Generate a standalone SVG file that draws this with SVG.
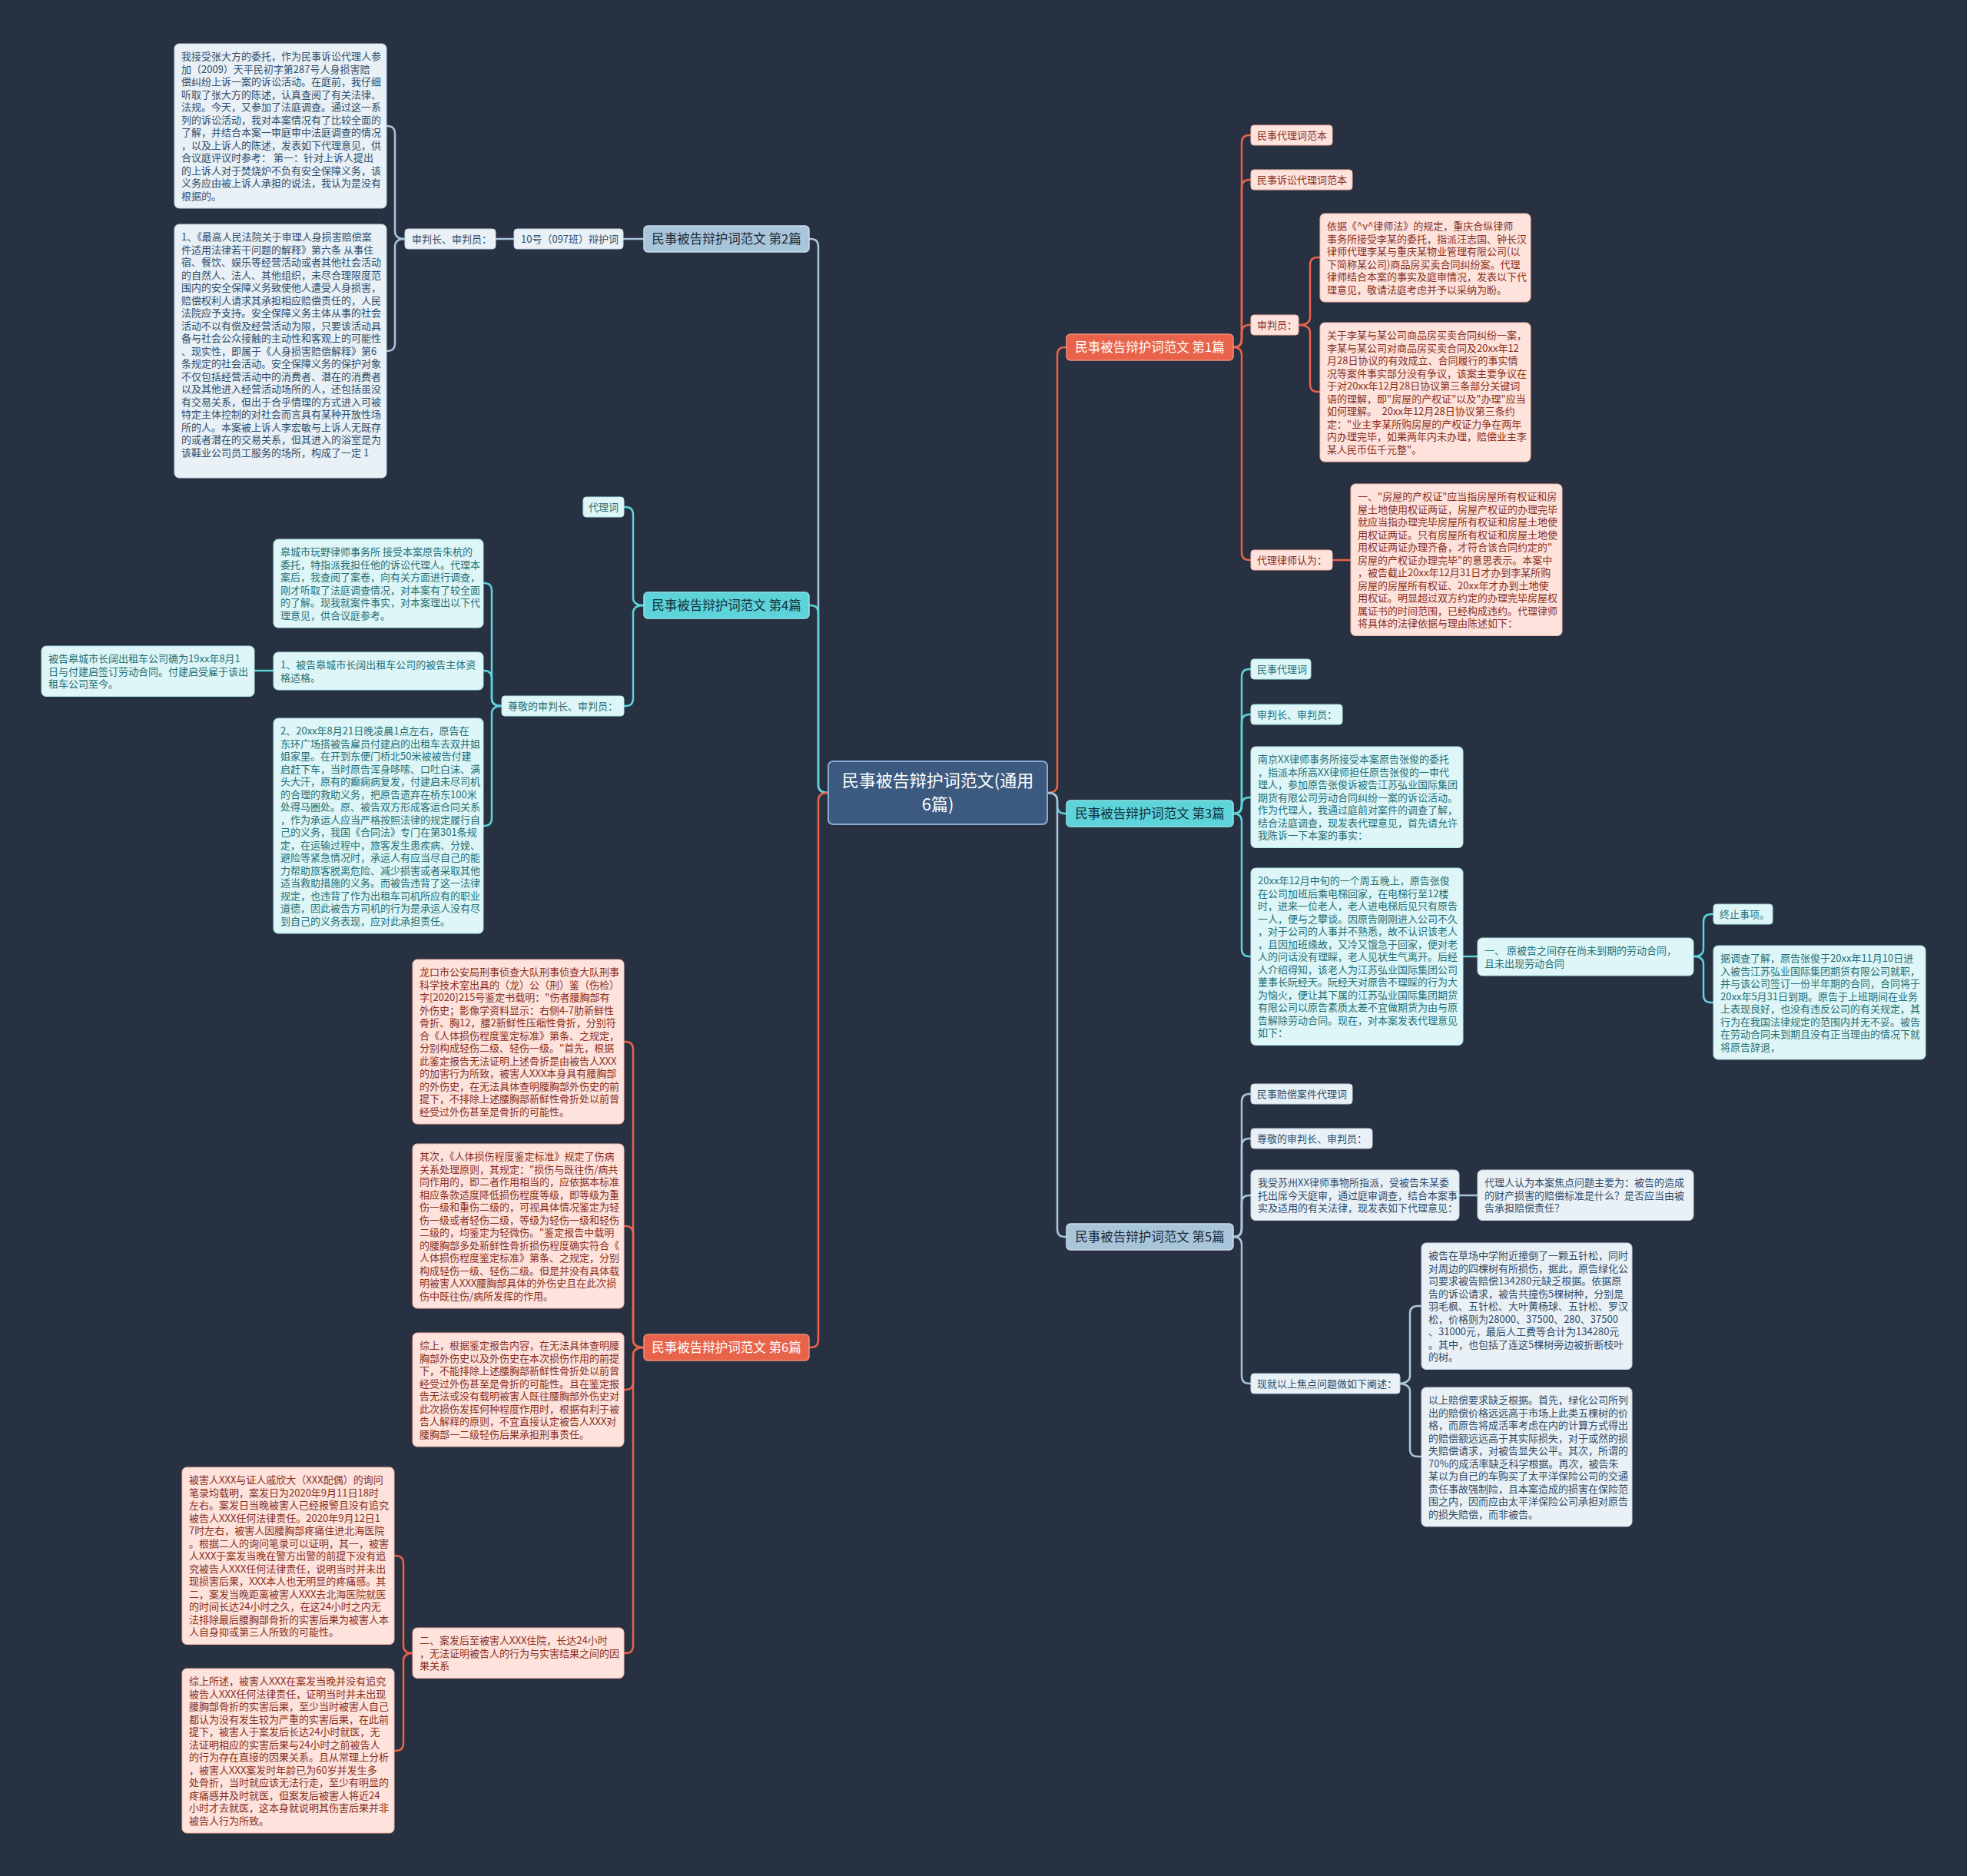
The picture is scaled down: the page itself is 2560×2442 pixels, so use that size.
<svg xmlns="http://www.w3.org/2000/svg" width="2560" height="2442" viewBox="0 0 2560 2442">
<style>
text{font-family:"Noto Sans CJK SC","Noto Sans",sans-serif;font-size:13px}
.bg{fill:#283142}
.c-blue{fill:none;stroke:#a9c5d9;stroke-width:2.5}
.c-cyan{fill:none;stroke:#5dd3da;stroke-width:2.5}
.c-red{fill:none;stroke:#e8634a;stroke-width:2.5}
.n1b rect{fill:#a9c5d9;stroke:#c9dceb;stroke-width:1.5}
.n1b text{fill:#1c2a3a;font-size:16.5px;text-anchor:middle}
.n1c rect{fill:#5dd3da;stroke:#8fe6ea;stroke-width:1.5}
.n1c text{fill:#13303a;font-size:16.5px;text-anchor:middle}
.n1r rect{fill:#e8634a;stroke:#f08d78;stroke-width:1.5}
.n1r text{fill:#ffffff;font-size:16.5px;text-anchor:middle}
.b rect{fill:#e9f1f7;stroke:#c3d6e4;stroke-width:1}
.b text{fill:#2f4d6a}
.c rect{fill:#def6f7;stroke:#aee6ea;stroke-width:1}
.c text{fill:#1e7077}
.r rect{fill:#fde3db;stroke:#f2b7a8;stroke-width:1}
.r text{fill:#8b2f1f}
</style>
<rect class="bg" x="0" y="0" width="2560" height="2442"/>

<g id="connectors">
<path class="c-red" d="M1363,1032 Q1376,1032 1376,1022 L1376,462 Q1376,452 1386,452 L1388,452"/>
<path class="c-cyan" d="M1363,1032 Q1376,1032 1376,1042 L1376,1049 Q1376,1059 1386,1059 L1388,1059"/>
<path class="c-blue" d="M1363,1032 Q1376,1032 1376,1042 L1376,1600 Q1376,1610 1386,1610 L1388,1610"/>
<path class="c-blue" d="M1078,1032 Q1065,1032 1065,1022 L1065,321 Q1065,311 1055,311 L1053,311"/>
<path class="c-cyan" d="M1078,1032 Q1065,1032 1065,1022 L1065,798 Q1065,788 1055,788 L1053,788"/>
<path class="c-red" d="M1078,1032 Q1065,1032 1065,1042 L1065,1744 Q1065,1754 1055,1754 L1053,1754"/>
<path class="c-blue" d="M838,311 L811,311"/>
<path class="c-blue" d="M669,311 L645,311"/>
<path class="c-blue" d="M527,311 Q514,311 514,301 L514,174 Q514,164 504,164 L503,164"/>
<path class="c-blue" d="M527,311 Q514,311 514,321 L514,447 Q514,457 504,457 L503,457"/>
<path class="c-cyan" d="M838,788 Q824,788 824,778 L824,670 Q824,660 814,660 L812,660"/>
<path class="c-cyan" d="M838,788 Q824,788 824,798 L824,909 Q824,919 814,919 L812,919"/>
<path class="c-cyan" d="M653,919 Q640,919 640,909 L640,769 Q640,759 630,759 L629,759"/>
<path class="c-cyan" d="M653,919 Q640,919 640,909 L640,883 Q640,873 630,873 L629,873"/>
<path class="c-cyan" d="M653,919 Q640,919 640,929 L640,1065 Q640,1075 630,1075 L629,1075"/>
<path class="c-cyan" d="M356,873 L331,873"/>
<path class="c-red" d="M838,1754 Q824,1754 824,1744 L824,1366 Q824,1356 814,1356 L812,1356"/>
<path class="c-red" d="M838,1754 Q824,1754 824,1744 L824,1606 Q824,1596 814,1596 L812,1596"/>
<path class="c-red" d="M838,1754 Q824,1754 824,1764 L824,1799 Q824,1809 814,1809 L812,1809"/>
<path class="c-red" d="M838,1754 Q824,1754 824,1764 L824,2142 Q824,2152 814,2152 L812,2152"/>
<path class="c-red" d="M537,2152 Q525,2152 525,2142 L525,2035 Q525,2025 515,2025 L513,2025"/>
<path class="c-red" d="M537,2152 Q525,2152 525,2162 L525,2269 Q525,2279 515,2279 L513,2279"/>
<path class="c-red" d="M1605,452 Q1616,452 1616,442 L1616,186 Q1616,176 1626,176 L1628,176"/>
<path class="c-red" d="M1605,452 Q1616,452 1616,442 L1616,244 Q1616,234 1626,234 L1628,234"/>
<path class="c-red" d="M1605,452 Q1616,452 1616,442 L1616,433 Q1616,423 1626,423 L1628,423"/>
<path class="c-red" d="M1605,452 Q1616,452 1616,462 L1616,719 Q1616,729 1626,729 L1628,729"/>
<path class="c-red" d="M1690,423 Q1705,423 1705,413 L1705,345 Q1705,335 1715,335 L1718,335"/>
<path class="c-red" d="M1690,423 Q1705,423 1705,433 L1705,500 Q1705,510 1715,510 L1718,510"/>
<path class="c-red" d="M1734,729 L1758,729"/>
<path class="c-cyan" d="M1605,1059 Q1616,1059 1616,1049 L1616,881 Q1616,871 1626,871 L1628,871"/>
<path class="c-cyan" d="M1605,1059 Q1616,1059 1616,1049 L1616,940 Q1616,930 1626,930 L1628,930"/>
<path class="c-cyan" d="M1605,1059 Q1616,1059 1616,1049 L1616,1048 Q1616,1038 1626,1038 L1628,1038"/>
<path class="c-cyan" d="M1605,1059 Q1616,1059 1616,1069 L1616,1235 Q1616,1245 1626,1245 L1628,1245"/>
<path class="c-cyan" d="M1904,1245 L1923,1245"/>
<path class="c-cyan" d="M2204,1245 Q2217,1245 2217,1235 L2217,1200 Q2217,1190 2227,1190 L2230,1190"/>
<path class="c-cyan" d="M2204,1245 Q2217,1245 2217,1255 L2217,1295 Q2217,1305 2227,1305 L2230,1305"/>
<path class="c-blue" d="M1605,1610 Q1616,1610 1616,1600 L1616,1434 Q1616,1424 1626,1424 L1628,1424"/>
<path class="c-blue" d="M1605,1610 Q1616,1610 1616,1600 L1616,1492 Q1616,1482 1626,1482 L1628,1482"/>
<path class="c-blue" d="M1605,1610 Q1616,1610 1616,1600 L1616,1566 Q1616,1556 1626,1556 L1628,1556"/>
<path class="c-blue" d="M1605,1610 Q1616,1610 1616,1620 L1616,1791 Q1616,1801 1626,1801 L1628,1801"/>
<path class="c-blue" d="M1899,1556 L1923,1556"/>
<path class="c-blue" d="M1818,1801 Q1835,1801 1835,1791 L1835,1710 Q1835,1700 1845,1700 L1850,1700"/>
<path class="c-blue" d="M1818,1801 Q1835,1801 1835,1811 L1835,1886 Q1835,1896 1845,1896 L1850,1896"/>
</g>

<g id="center">
<rect x="1078" y="991" width="285" height="82" rx="6" fill="#3c5a80" stroke="#8aaad0" stroke-width="2"/>
<text x="1220.5" y="1024" fill="#ffffff" text-anchor="middle" style="font-size:22px">民事被告辩护词范文(通用</text>
<text x="1220.5" y="1055" fill="#ffffff" text-anchor="middle" style="font-size:22px">6篇)</text>
</g>

<g id="p1" class="n1r"><rect x="1388" y="435" width="217" height="34" rx="5"/><text x="1496.5" y="458">民事被告辩护词范文 第1篇</text></g>
<g id="p2" class="n1b"><rect x="838" y="294" width="215" height="34" rx="5"/><text x="945.5" y="317">民事被告辩护词范文 第2篇</text></g>
<g id="p3" class="n1c"><rect x="1388" y="1042" width="217" height="34" rx="5"/><text x="1496.5" y="1065">民事被告辩护词范文 第3篇</text></g>
<g id="p4" class="n1c"><rect x="838" y="771" width="215" height="34" rx="5"/><text x="945.5" y="794">民事被告辩护词范文 第4篇</text></g>
<g id="p5" class="n1b"><rect x="1388" y="1593" width="217" height="34" rx="5"/><text x="1496.5" y="1616">民事被告辩护词范文 第5篇</text></g>
<g id="p6" class="n1r"><rect x="838" y="1737" width="215" height="34" rx="5"/><text x="945.5" y="1760">民事被告辩护词范文 第6篇</text></g>

<g id="n2a" class="b"><rect x="669" y="298" width="142" height="26" rx="4"/><text x="678" y="316">10号（097班）辩护词</text></g>
<g id="n2b" class="b"><rect x="527" y="298" width="118" height="26" rx="4"/><text x="536" y="316">审判长、审判员：</text></g>
<g id="n2c" class="b"><rect x="227" y="57" width="276" height="214" rx="6"/>
<text x="236" y="78">我接受张大方的委托，作为民事诉讼代理人参<tspan x="236" dy="16.5">加（2009）天平民初字第287号人身损害赔</tspan><tspan x="236" dy="16.5">偿纠纷上诉一案的诉讼活动。在庭前，我仔细</tspan><tspan x="236" dy="16.5">听取了张大方的陈述，认真查阅了有关法律、</tspan><tspan x="236" dy="16.5">法规。今天，又参加了法庭调查。通过这一系</tspan><tspan x="236" dy="16.5">列的诉讼活动，我对本案情况有了比较全面的</tspan><tspan x="236" dy="16.5">了解，并结合本案一审庭审中法庭调查的情况</tspan><tspan x="236" dy="16.5">，以及上诉人的陈述，发表如下代理意见，供</tspan><tspan x="236" dy="16.5">合议庭评议时参考： 第一：针对上诉人提出</tspan><tspan x="236" dy="16.5">的上诉人对于焚烧炉不负有安全保障义务，该</tspan><tspan x="236" dy="16.5">义务应由被上诉人承担的说法，我认为是没有</tspan><tspan x="236" dy="16.5">根据的。</tspan></text></g>
<g id="n2d" class="b"><rect x="227" y="292" width="276" height="330" rx="6"/>
<text x="236" y="313">1、《最高人民法院关于审理人身损害赔偿案<tspan x="236" dy="16.5">件适用法律若干问题的解释》第六条 从事住</tspan><tspan x="236" dy="16.5">宿、餐饮、娱乐等经营活动或者其他社会活动</tspan><tspan x="236" dy="16.5">的自然人、法人、其他组织，未尽合理限度范</tspan><tspan x="236" dy="16.5">围内的安全保障义务致使他人遭受人身损害，</tspan><tspan x="236" dy="16.5">赔偿权利人请求其承担相应赔偿责任的，人民</tspan><tspan x="236" dy="16.5">法院应予支持。安全保障义务主体从事的社会</tspan><tspan x="236" dy="16.5">活动不以有偿及经营活动为限，只要该活动具</tspan><tspan x="236" dy="16.5">备与社会公众接触的主动性和客观上的可能性</tspan><tspan x="236" dy="16.5">、现实性，即属于《人身损害赔偿解释》第6</tspan><tspan x="236" dy="16.5">条规定的社会活动。安全保障义务的保护对象</tspan><tspan x="236" dy="16.5">不仅包括经营活动中的消费者、潜在的消费者</tspan><tspan x="236" dy="16.5">以及其他进入经营活动场所的人，还包括虽没</tspan><tspan x="236" dy="16.5">有交易关系，但出于合乎情理的方式进入可被</tspan><tspan x="236" dy="16.5">特定主体控制的对社会而言具有某种开放性场</tspan><tspan x="236" dy="16.5">所的人。本案被上诉人李宏敏与上诉人无既存</tspan><tspan x="236" dy="16.5">的或者潜在的交易关系，但其进入的浴室是为</tspan><tspan x="236" dy="16.5">该鞋业公司员工服务的场所，构成了一定 1</tspan></text></g>

<g id="n4a" class="c"><rect x="759" y="647" width="53" height="26" rx="4"/><text x="766" y="665">代理词</text></g>
<g id="n4b" class="c"><rect x="653" y="906" width="159" height="26" rx="4"/><text x="661" y="924">尊敬的审判长、审判员：</text></g>
<g id="n4c" class="c"><rect x="356" y="702" width="273" height="115" rx="6"/>
<text x="365" y="723">皋城市玩野律师事务所 接受本案原告朱杭的<tspan x="365" dy="16.5">委托，特指派我担任他的诉讼代理人。代理本</tspan><tspan x="365" dy="16.5">案后，我查阅了案卷，向有关方面进行调查，</tspan><tspan x="365" dy="16.5">刚才听取了法庭调查情况，对本案有了较全面</tspan><tspan x="365" dy="16.5">的了解。现我就案件事实，对本案理出以下代</tspan><tspan x="365" dy="16.5">理意见，供合议庭参考。</tspan></text></g>
<g id="n4d" class="c"><rect x="356" y="849" width="273" height="49" rx="6"/>
<text x="365" y="870">1、被告皋城市长阔出租车公司的被告主体资<tspan x="365" dy="16.5">格适格。</tspan></text></g>
<g id="n4e" class="c"><rect x="54" y="841" width="277" height="65.5" rx="6"/>
<text x="63" y="862">被告皋城市长阔出租车公司确为19xx年8月1<tspan x="63" dy="16.5">日与付建启签订劳动合同。付建启受雇于该出</tspan><tspan x="63" dy="16.5">租车公司至今。</tspan></text></g>
<g id="n4f" class="c"><rect x="356" y="935" width="273" height="280" rx="6"/>
<text x="365" y="956">2、20xx年8月21日晚凌晨1点左右，原告在<tspan x="365" dy="16.5">东环广场搭被告雇员付建启的出租车去双井姐</tspan><tspan x="365" dy="16.5">姐家里。在开到东便门桥北50米被被告付建</tspan><tspan x="365" dy="16.5">启赶下车，当时原告浑身哆嗦、口吐白沫、满</tspan><tspan x="365" dy="16.5">头大汗，原有的癫痫病复发，付建启未尽司机</tspan><tspan x="365" dy="16.5">的合理的救助义务，把原告遗弃在桥东100米</tspan><tspan x="365" dy="16.5">处得马圈处。原、被告双方形成客运合同关系</tspan><tspan x="365" dy="16.5">，作为承运人应当严格按照法律的规定履行自</tspan><tspan x="365" dy="16.5">己的义务，我国《合同法》专门在第301条规</tspan><tspan x="365" dy="16.5">定，在运输过程中，旅客发生患疾病、分娩、</tspan><tspan x="365" dy="16.5">避险等紧急情况时，承运人有应当尽自己的能</tspan><tspan x="365" dy="16.5">力帮助旅客脱离危险、减少损害或者采取其他</tspan><tspan x="365" dy="16.5">适当救助措施的义务。而被告违背了这一法律</tspan><tspan x="365" dy="16.5">规定，也违背了作为出租车司机所应有的职业</tspan><tspan x="365" dy="16.5">道德，因此被告方司机的行为是承运人没有尽</tspan><tspan x="365" dy="16.5">到自己的义务表现，应对此承担责任。</tspan></text></g>

<g id="n6a" class="r"><rect x="537" y="1249" width="275" height="214" rx="6"/>
<text x="546" y="1270">龙口市公安局刑事侦查大队刑事侦查大队刑事<tspan x="546" dy="16.5">科学技术室出具的（龙）公（刑）鉴（伤检）</tspan><tspan x="546" dy="16.5">字[2020]215号鉴定书载明："伤者腰胸部有</tspan><tspan x="546" dy="16.5">外伤史；影像学资料显示：右侧4-7肋新鲜性</tspan><tspan x="546" dy="16.5">骨折、胸12，腰2新鲜性压缩性骨折，分别符</tspan><tspan x="546" dy="16.5">合《人体损伤程度鉴定标准》第条、之规定，</tspan><tspan x="546" dy="16.5">分别构成轻伤二级、轻伤一级。"首先，根据</tspan><tspan x="546" dy="16.5">此鉴定报告无法证明上述骨折是由被告人XXX</tspan><tspan x="546" dy="16.5">的加害行为所致，被害人XXX本身具有腰胸部</tspan><tspan x="546" dy="16.5">的外伤史，在无法具体查明腰胸部外伤史的前</tspan><tspan x="546" dy="16.5">提下，不排除上述腰胸部新鲜性骨折处以前曾</tspan><tspan x="546" dy="16.5">经受过外伤甚至是骨折的可能性。</tspan></text></g>
<g id="n6b" class="r"><rect x="537" y="1489" width="275" height="214" rx="6"/>
<text x="546" y="1510">其次，《人体损伤程度鉴定标准》规定了伤病<tspan x="546" dy="16.5">关系处理原则，其规定："损伤与既往伤/病共</tspan><tspan x="546" dy="16.5">同作用的，即二者作用相当的，应依据本标准</tspan><tspan x="546" dy="16.5">相应条款适度降低损伤程度等级，即等级为重</tspan><tspan x="546" dy="16.5">伤一级和重伤二级的，可视具体情况鉴定为轻</tspan><tspan x="546" dy="16.5">伤一级或者轻伤二级，等级为轻伤一级和轻伤</tspan><tspan x="546" dy="16.5">二级的，均鉴定为轻微伤。"鉴定报告中载明</tspan><tspan x="546" dy="16.5">的腰胸部多处新鲜性骨折损伤程度确实符合《</tspan><tspan x="546" dy="16.5">人体损伤程度鉴定标准》第条、之规定，分别</tspan><tspan x="546" dy="16.5">构成轻伤一级、轻伤二级。但是并没有具体载</tspan><tspan x="546" dy="16.5">明被害人XXX腰胸部具体的外伤史且在此次损</tspan><tspan x="546" dy="16.5">伤中既往伤/病所发挥的作用。</tspan></text></g>
<g id="n6c" class="r"><rect x="537" y="1735" width="275" height="148" rx="6"/>
<text x="546" y="1756">综上，根据鉴定报告内容，在无法具体查明腰<tspan x="546" dy="16.5">胸部外伤史以及外伤史在本次损伤作用的前提</tspan><tspan x="546" dy="16.5">下，不能排除上述腰胸部新鲜性骨折处以前曾</tspan><tspan x="546" dy="16.5">经受过外伤甚至是骨折的可能性。且在鉴定报</tspan><tspan x="546" dy="16.5">告无法或没有载明被害人既往腰胸部外伤史对</tspan><tspan x="546" dy="16.5">此次损伤发挥何种程度作用时，根据有利于被</tspan><tspan x="546" dy="16.5">告人解释的原则，不宜直接认定被告人XXX对</tspan><tspan x="546" dy="16.5">腰胸部一二级轻伤后果承担刑事责任。</tspan></text></g>
<g id="n6d" class="r"><rect x="537" y="2119" width="275" height="65.5" rx="6"/>
<text x="546" y="2140">二、案发后至被害人XXX住院，长达24小时<tspan x="546" dy="16.5">，无法证明被告人的行为与实害结果之间的因</tspan><tspan x="546" dy="16.5">果关系</tspan></text></g>
<g id="n6e" class="r"><rect x="237" y="1910" width="276" height="230.5" rx="6"/>
<text x="246" y="1931">被害人XXX与证人戚欣大（XXX配偶）的询问<tspan x="246" dy="16.5">笔录均载明，案发日为2020年9月11日18时</tspan><tspan x="246" dy="16.5">左右。案发日当晚被害人已经报警且没有追究</tspan><tspan x="246" dy="16.5">被告人XXX任何法律责任。2020年9月12日1</tspan><tspan x="246" dy="16.5">7时左右，被害人因腰胸部疼痛住进北海医院</tspan><tspan x="246" dy="16.5">。根据二人的询问笔录可以证明，其一，被害</tspan><tspan x="246" dy="16.5">人XXX于案发当晚在警方出警的前提下没有追</tspan><tspan x="246" dy="16.5">究被告人XXX任何法律责任，说明当时并未出</tspan><tspan x="246" dy="16.5">现损害后果，XXX本人也无明显的疼痛感。其</tspan><tspan x="246" dy="16.5">二，案发当晚距离被害人XXX去北海医院就医</tspan><tspan x="246" dy="16.5">的时间长达24小时之久，在这24小时之内无</tspan><tspan x="246" dy="16.5">法排除最后腰胸部骨折的实害后果为被害人本</tspan><tspan x="246" dy="16.5">人自身抑或第三人所致的可能性。</tspan></text></g>
<g id="n6f" class="r"><rect x="237" y="2172" width="276" height="214" rx="6"/>
<text x="246" y="2193">综上所述，被害人XXX在案发当晚并没有追究<tspan x="246" dy="16.5">被告人XXX任何法律责任，证明当时并未出现</tspan><tspan x="246" dy="16.5">腰胸部骨折的实害后果，至少当时被害人自己</tspan><tspan x="246" dy="16.5">都认为没有发生较为严重的实害后果，在此前</tspan><tspan x="246" dy="16.5">提下，被害人于案发后长达24小时就医，无</tspan><tspan x="246" dy="16.5">法证明相应的实害后果与24小时之前被告人</tspan><tspan x="246" dy="16.5">的行为存在直接的因果关系。且从常理上分析</tspan><tspan x="246" dy="16.5">，被害人XXX案发时年龄已为60岁并发生多</tspan><tspan x="246" dy="16.5">处骨折，当时就应该无法行走，至少有明显的</tspan><tspan x="246" dy="16.5">疼痛感并及时就医，但案发后被害人将近24</tspan><tspan x="246" dy="16.5">小时才去就医，这本身就说明其伤害后果并非</tspan><tspan x="246" dy="16.5">被告人行为所致。</tspan></text></g>

<g id="n1a" class="r"><rect x="1628" y="163" width="106" height="26" rx="4"/><text x="1636" y="181">民事代理词范本</text></g>
<g id="n1b" class="r"><rect x="1628" y="221" width="132" height="26" rx="4"/><text x="1636" y="239">民事诉讼代理词范本</text></g>
<g id="n1c" class="r"><rect x="1628" y="410" width="62" height="26" rx="4"/><text x="1636" y="428">审判员：</text></g>
<g id="n1d" class="r"><rect x="1628" y="716" width="106" height="26" rx="4"/><text x="1636" y="734">代理律师认为：</text></g>
<g id="n1e" class="r"><rect x="1718" y="278" width="274" height="115" rx="6"/>
<text x="1727" y="299">依据《^v^律师法》的规定，重庆合纵律师<tspan x="1727" dy="16.5">事务所接受李某的委托，指派汪志国、钟长汉</tspan><tspan x="1727" dy="16.5">律师代理李某与重庆某物业管理有限公司(以</tspan><tspan x="1727" dy="16.5">下简称某公司)商品房买卖合同纠纷案。代理</tspan><tspan x="1727" dy="16.5">律师结合本案的事实及庭审情况，发表以下代</tspan><tspan x="1727" dy="16.5">理意见，敬请法庭考虑并予以采纳为盼。</tspan></text></g>
<g id="n1f" class="r"><rect x="1718" y="420" width="274" height="181" rx="6"/>
<text x="1727" y="441">关于李某与某公司商品房买卖合同纠纷一案，<tspan x="1727" dy="16.5">李某与某公司对商品房买卖合同及20xx年12</tspan><tspan x="1727" dy="16.5">月28日协议的有效成立、合同履行的事实情</tspan><tspan x="1727" dy="16.5">况等案件事实部分没有争议，该案主要争议在</tspan><tspan x="1727" dy="16.5">于对20xx年12月28日协议第三条部分关键词</tspan><tspan x="1727" dy="16.5">语的理解，即"房屋的产权证"以及"办理"应当</tspan><tspan x="1727" dy="16.5">如何理解。　20xx年12月28日协议第三条约</tspan><tspan x="1727" dy="16.5">定："业主李某所购房屋的产权证力争在两年</tspan><tspan x="1727" dy="16.5">内办理完毕，如果两年内未办理，赔偿业主李</tspan><tspan x="1727" dy="16.5">某人民币伍千元整"。</tspan></text></g>
<g id="n1g" class="r"><rect x="1758" y="630" width="275" height="197.5" rx="6"/>
<text x="1767" y="651">一、"房屋的产权证"应当指房屋所有权证和房<tspan x="1767" dy="16.5">屋土地使用权证两证，房屋产权证的办理完毕</tspan><tspan x="1767" dy="16.5">就应当指办理完毕房屋所有权证和房屋土地使</tspan><tspan x="1767" dy="16.5">用权证两证。只有房屋所有权证和房屋土地使</tspan><tspan x="1767" dy="16.5">用权证两证办理齐备，才符合该合同约定的"</tspan><tspan x="1767" dy="16.5">房屋的产权证办理完毕"的意思表示。本案中</tspan><tspan x="1767" dy="16.5">，被告截止20xx年12月31日才办到李某所购</tspan><tspan x="1767" dy="16.5">房屋的房屋所有权证、20xx年才办到土地使</tspan><tspan x="1767" dy="16.5">用权证。明显超过双方约定的办理完毕房屋权</tspan><tspan x="1767" dy="16.5">属证书的时间范围，已经构成违约。代理律师</tspan><tspan x="1767" dy="16.5">将具体的法律依据与理由陈述如下：</tspan></text></g>

<g id="n3a" class="c"><rect x="1628" y="858" width="78" height="26" rx="4"/><text x="1636" y="876">民事代理词</text></g>
<g id="n3b" class="c"><rect x="1628" y="917" width="119" height="26" rx="4"/><text x="1636" y="935">审判长、审判员：</text></g>
<g id="n3c" class="c"><rect x="1628" y="972" width="276" height="131.5" rx="6"/>
<text x="1637" y="993">南京XX律师事务所接受本案原告张俊的委托<tspan x="1637" dy="16.5">，指派本所高XX律师担任原告张俊的一审代</tspan><tspan x="1637" dy="16.5">理人，参加原告张俊诉被告江苏弘业国际集团</tspan><tspan x="1637" dy="16.5">期货有限公司劳动合同纠纷一案的诉讼活动。</tspan><tspan x="1637" dy="16.5">作为代理人，我通过庭前对案件的调查了解，</tspan><tspan x="1637" dy="16.5">结合法庭调查，现发表代理意见，首先请允许</tspan><tspan x="1637" dy="16.5">我陈诉一下本案的事实：</tspan></text></g>
<g id="n3d" class="c"><rect x="1628" y="1130" width="276" height="230.5" rx="6"/>
<text x="1637" y="1151">20xx年12月中旬的一个周五晚上，原告张俊<tspan x="1637" dy="16.5">在公司加班后乘电梯回家，在电梯行至12楼</tspan><tspan x="1637" dy="16.5">时，进来一位老人，老人进电梯后见只有原告</tspan><tspan x="1637" dy="16.5">一人，便与之攀谈。因原告刚刚进入公司不久</tspan><tspan x="1637" dy="16.5">，对于公司的人事并不熟悉，故不认识该老人</tspan><tspan x="1637" dy="16.5">，且因加班缘故，又冷又饿急于回家，便对老</tspan><tspan x="1637" dy="16.5">人的问话没有理睬，老人见状生气离开。后经</tspan><tspan x="1637" dy="16.5">人介绍得知，该老人为江苏弘业国际集团公司</tspan><tspan x="1637" dy="16.5">董事长阮经天。阮经天对原告不理睬的行为大</tspan><tspan x="1637" dy="16.5">为恼火，便让其下属的江苏弘业国际集团期货</tspan><tspan x="1637" dy="16.5">有限公司以原告素质太差不宜做期货为由与原</tspan><tspan x="1637" dy="16.5">告解除劳动合同。现在，对本案发表代理意见</tspan><tspan x="1637" dy="16.5">如下：</tspan></text></g>
<g id="n3e" class="c"><rect x="1923" y="1221" width="281" height="49" rx="6"/>
<text x="1932" y="1242">一、 原被告之间存在尚未到期的劳动合同，<tspan x="1932" dy="16.5">且未出现劳动合同</tspan></text></g>
<g id="n3f" class="c"><rect x="2230" y="1177" width="77" height="26" rx="4"/><text x="2238" y="1195">终止事项。</text></g>
<g id="n3g" class="c"><rect x="2230" y="1231" width="276" height="148" rx="6"/>
<text x="2239" y="1252">据调查了解，原告张俊于20xx年11月10日进<tspan x="2239" dy="16.5">入被告江苏弘业国际集团期货有限公司就职，</tspan><tspan x="2239" dy="16.5">并与该公司签订一份半年期的合同，合同将于</tspan><tspan x="2239" dy="16.5">20xx年5月31日到期。原告于上班期间在业务</tspan><tspan x="2239" dy="16.5">上表现良好，也没有违反公司的有关规定，其</tspan><tspan x="2239" dy="16.5">行为在我国法律规定的范围内并无不妥。被告</tspan><tspan x="2239" dy="16.5">在劳动合同未到期且没有正当理由的情况下就</tspan><tspan x="2239" dy="16.5">将原告辞退，</tspan></text></g>

<g id="n5a" class="b"><rect x="1628" y="1411" width="132" height="26" rx="4"/><text x="1636" y="1429">民事赔偿案件代理词</text></g>
<g id="n5b" class="b"><rect x="1628" y="1469" width="158" height="26" rx="4"/><text x="1636" y="1487">尊敬的审判长、审判员：</text></g>
<g id="n5c" class="b"><rect x="1628" y="1523" width="271" height="65.5" rx="6"/>
<text x="1637" y="1544">我受苏州XX律师事物所指派，受被告朱某委<tspan x="1637" dy="16.5">托出席今天庭审，通过庭审调查，结合本案事</tspan><tspan x="1637" dy="16.5">实及适用的有关法律，现发表如下代理意见：</tspan></text></g>
<g id="n5d" class="b"><rect x="1923" y="1523" width="281" height="65.5" rx="6"/>
<text x="1932" y="1544">代理人认为本案焦点问题主要为：被告的造成<tspan x="1932" dy="16.5">的财产损害的赔偿标准是什么？是否应当由被</tspan><tspan x="1932" dy="16.5">告承担赔偿责任？</tspan></text></g>
<g id="n5e" class="b"><rect x="1628" y="1788" width="194" height="26" rx="4"/><text x="1636" y="1806">现就以上焦点问题做如下阐述：</text></g>
<g id="n5f" class="b"><rect x="1850" y="1618" width="274" height="164.5" rx="6"/>
<text x="1859" y="1639">被告在草场中学附近撞倒了一颗五针松，同时<tspan x="1859" dy="16.5">对周边的四棵树有所损伤，据此，原告绿化公</tspan><tspan x="1859" dy="16.5">司要求被告赔偿134280元缺乏根据。依据原</tspan><tspan x="1859" dy="16.5">告的诉讼请求，被告共撞伤5棵树种，分别是</tspan><tspan x="1859" dy="16.5">羽毛枫、五针松、大叶黄杨球、五针松、罗汉</tspan><tspan x="1859" dy="16.5">松，价格则为28000、37500、280、37500</tspan><tspan x="1859" dy="16.5">、31000元，最后人工费等合计为134280元</tspan><tspan x="1859" dy="16.5">。其中，也包括了连这5棵树旁边被折断枝叶</tspan><tspan x="1859" dy="16.5">的树。</tspan></text></g>
<g id="n5g" class="b"><rect x="1850" y="1806" width="274" height="181" rx="6"/>
<text x="1859" y="1827">以上赔偿要求缺乏根据。首先，绿化公司所列<tspan x="1859" dy="16.5">出的赔偿价格远远高于市场上此类五棵树的价</tspan><tspan x="1859" dy="16.5">格，而原告将成活率考虑在内的计算方式得出</tspan><tspan x="1859" dy="16.5">的赔偿额远远高于其实际损失，对于或然的损</tspan><tspan x="1859" dy="16.5">失赔偿请求，对被告显失公平。其次，所谓的</tspan><tspan x="1859" dy="16.5">70%的成活率缺乏科学根据。再次，被告朱</tspan><tspan x="1859" dy="16.5">某以为自己的车购买了太平洋保险公司的交通</tspan><tspan x="1859" dy="16.5">责任事故强制险，且本案造成的损害在保险范</tspan><tspan x="1859" dy="16.5">围之内，因而应由太平洋保险公司承担对原告</tspan><tspan x="1859" dy="16.5">的损失赔偿，而非被告。</tspan></text></g>
</svg>
